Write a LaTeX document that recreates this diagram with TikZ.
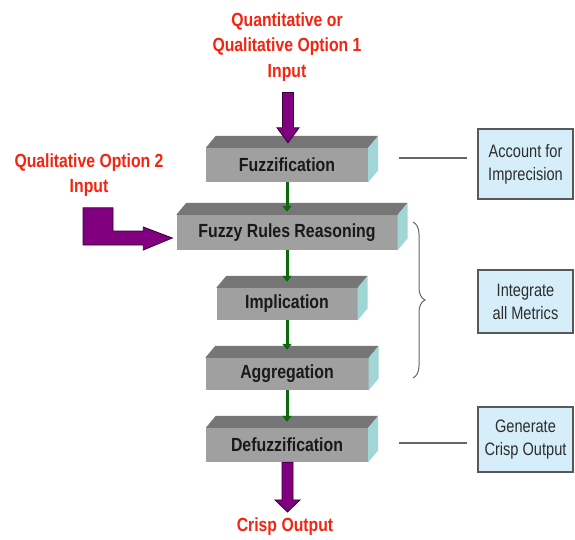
\documentclass[tikz,border=0pt]{standalone}
\usepackage{fontspec}
\newfontfamily\narrowsans[FakeStretch=0.835]{Liberation Sans}
\newfontfamily\redsans[FakeStretch=0.83]{Liberation Sans}
\newfontfamily\thinsans[FakeStretch=0.81]{Liberation Sans}
\usetikzlibrary{arrows.meta,decorations.pathreplacing,calc}
\definecolor{redtxt}{RGB}{245,35,15}
\definecolor{slabfront}{RGB}{160,160,160}
\definecolor{slabtop}{RGB}{118,118,118}
\definecolor{slabside}{RGB}{160,214,214}
\definecolor{fatpurple}{RGB}{128,0,128}
\definecolor{greenarrow}{RGB}{10,105,10}
\definecolor{boxblue}{RGB}{214,238,250}
\definecolor{boxtext}{RGB}{45,45,45}
\newcommand\slabfaces[1]{%
  \fill[slabtop] (#1.north west) -- ++(10pt,12pt) -- ([shift={(10pt,12pt)}]#1.north east) -- (#1.north east) -- cycle;
  \fill[slabside] (#1.north east) -- ++(10pt,12pt) -- ([shift={(10pt,12pt)}]#1.south east) -- (#1.south east) -- cycle;}
\newcommand\fatdown[5]{%
  \path[fatarrow] let \p1=(#1), \p2=(#2) in
    (\x1-#3,\y1) -- (\x1+#3,\y1) -- (\x1+#3,\y2+#5) -- (\x1+#4,\y2+#5) -- (\x1,\y2)
    -- (\x1-#4,\y2+#5) -- (\x1-#3,\y2+#5) -- cycle;}
\begin{document}
\begin{tikzpicture}[x=1pt,y=-1pt,
  redlabel/.style={text=redtxt, font=\redsans\bfseries\fontsize{19}{25.5}\selectfont, align=center, inner sep=0},
  slabbox/.style={rectangle, fill=slabfront, inner sep=0, font=\narrowsans\bfseries\fontsize{19}{22}\selectfont, text=black!90},
  notebox/.style={rectangle, draw=black!65, line width=1.5pt, fill=boxblue, minimum width=95pt, inner sep=0, text=boxtext, align=center, font=\thinsans\fontsize{18}{23}\selectfont},
  flow/.style={draw=greenarrow, line width=3pt, -{Triangle[length=6pt,width=9pt]}},
  link/.style={draw=black!60, line width=1.5pt},
  fatarrow/.style={fill=fatpurple, draw=black!60!fatpurple, line width=0.8pt, line join=miter},
  bracestyle/.style={draw=black!60, line width=1pt, decorate, decoration={brace, amplitude=12pt}}]
\useasboundingbox[fill=white] (0,0) rectangle (575,539);

% slabs
\node[slabbox, minimum width=162pt, minimum height=34pt] (fuzz) at (287,165) {Fuzzification};
\node[slabbox, minimum width=221pt, minimum height=35pt] (rules) at (287,232.5) {Fuzzy Rules Reasoning};
\node[slabbox, minimum width=141pt, minimum height=32pt] (impl) at (287,304) {Implication};
\node[slabbox, minimum width=163pt, minimum height=32pt] (aggr) at (287,374) {Aggregation};
\node[slabbox, minimum width=162pt, minimum height=34pt] (defuzz) at (287,445) {Defuzzification};
\slabfaces{fuzz}
\slabfaces{rules}
\slabfaces{impl}
\slabfaces{aggr}
\slabfaces{defuzz}

% red labels
\node[redlabel] (q1) at (287,47) {Quantitative or\\Qualitative Option 1\\Input};
\node[redlabel] (q2) at (89,175) {Qualitative Option 2\\Input};
\node[redlabel] (crisp) at (285,527) {Crisp Output};

% note boxes
\node[notebox, minimum height=70pt] (acc) at (525.5,164) {Account for\\Imprecision};
\node[notebox, minimum height=63pt] (integ) at (525.5,301.5) {Integrate\\all Metrics};
\node[notebox, minimum height=65pt] (gen) at (525.5,439.5) {Generate\\Crisp Output};

% green flow
\draw[flow] (fuzz.south) -- ([yshift=3pt]rules.north);
\draw[flow] (rules.south) -- ([yshift=6pt]impl.north);
\draw[flow] (impl.south) -- ([yshift=8pt]aggr.north);
\draw[flow] (aggr.south) -- ([yshift=6pt]defuzz.north);

% purple arrows
\fatdown{[xshift=1pt,yshift=-11pt]q1.south}{[yshift=5pt]fuzz.north}{5.5pt}{11pt}{15pt}
\fatdown{[xshift=0.5pt]defuzz.south}{[yshift=6pt]crisp.north}{5.5pt}{12.5pt}{12pt}
\path[fatarrow] let \p1=([yshift=-11pt]q2.south), \p2=([xshift=-4pt,yshift=-5.5pt]rules.west) in
  (\x1-6pt,\y1) -- (\x1+24pt,\y1) -- (\x1+24pt,\y2+7pt) -- (\x2-29pt,\y2+7pt) -- (\x2-29pt,\y2+11pt)
  -- (\x2,\y2) -- (\x2-29pt,\y2-12pt) -- (\x2-29pt,\y2-7pt) -- (\x1-6pt,\y2-7pt) -- cycle;

% links to notes
\draw[link] ([xshift=31pt,yshift=7pt]fuzz.east) -- ([xshift=-10pt,yshift=6pt]acc.west);
\draw[link] ([xshift=31pt,yshift=2pt]defuzz.east) -- ([xshift=-10pt,yshift=-3.5pt]gen.west);

% brace
\coordinate (btop) at (413,222);
\coordinate (bbot) at (413,378);
\draw[bracestyle] (btop) -- (bbot);
\end{tikzpicture}
\end{document}
